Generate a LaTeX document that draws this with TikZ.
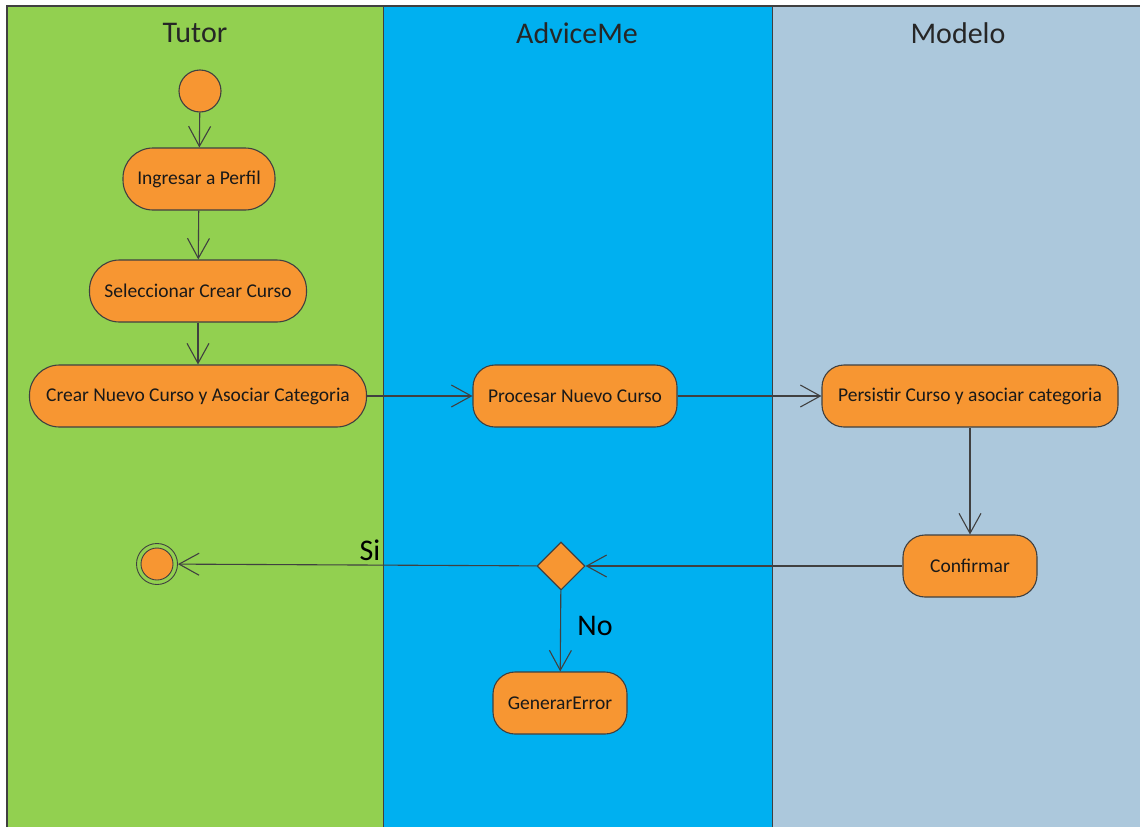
\documentclass[tikz,border=0pt]{standalone}
\usepackage{fontspec}
\setmainfont{Carlito}
\usetikzlibrary{arrows.meta,shapes.geometric}
\definecolor{lanegreen}{RGB}{146,208,80}
\definecolor{laneblue}{RGB}{0,176,240}
\definecolor{lanegray}{RGB}{172,200,220}
\definecolor{actorange}{RGB}{247,150,50}
\definecolor{edgegray}{RGB}{64,64,64}
\tikzset{
  act/.style={draw=edgegray, line width=1.1pt, fill=actorange, rounded corners=#1, minimum height=62pt, inner xsep=0pt, font=\fontsize{19.5}{22}\selectfont, text=black!90},
  act/.default=30pt,
  flow/.style={draw=edgegray, line width=1.1pt, -{Straight Barb[length=20pt,width=22pt,line width=1.1pt]}},
  lanetitle/.style={font=\fontsize{30}{32}\selectfont, text=black!85},
  lbl/.style={font=\fontsize{30}{32}\selectfont, text=black}
}
\begin{document}
\begin{tikzpicture}[x=1pt,y=-1pt]
\useasboundingbox (0,0) rectangle (1140,827);
\fill[white] (0,0) rectangle (1140,827);
% lanes
\fill[lanegreen] (7,6) rectangle (383,827);
\fill[laneblue] (383,6) rectangle (772,827);
\fill[lanegray] (772,6) rectangle (1140,827);
\draw[edgegray, line width=1.2pt] (7,827) -- (7,6) -- (1140,6);
\draw[edgegray, line width=0.8pt] (383,6) -- (383,827);
\draw[edgegray, line width=0.8pt] (772,6) -- (772,827);
\node[lanetitle] (tTutor) at (195,33) {Tutor};
\node[lanetitle] (tAdv) at (577,33) {AdviceMe};
\node[lanetitle] (tMod) at (958,33) {Modelo};
% nodes
\node[circle, draw=edgegray, line width=1.1pt, fill=actorange, minimum size=42pt, inner sep=0pt] (start) at (200,91) {};
\node[act, minimum width=152pt] (ing) at (199,179) {Ingresar a Perfil};
\node[act, minimum width=217pt] (sel) at (198,291) {Seleccionar Crear Curso};
\node[act, minimum width=337pt] (crear) at (198,396) {Crear Nuevo Curso y Asociar Categoria};
\node[act=22pt, minimum width=204pt] (proc) at (575,396) {Procesar Nuevo Curso};
\node[act=22pt, minimum width=296pt] (pers) at (970,396) {Persistir Curso y asociar categoria};
\node[act=22pt, minimum width=134pt] (conf) at (970,566) {Confirmar};
\node[diamond, draw=edgegray, line width=1.1pt, fill=actorange, minimum width=48pt, minimum height=48pt, inner sep=0pt] (dec) at (561,566) {};
\node[act=22pt, minimum width=134pt] (err) at (560,703) {GenerarError};
\node[circle, draw=edgegray, line width=0.9pt, fill=lanegreen, minimum size=41pt, inner sep=0pt] (endo) at (157,564) {};
\node[circle, draw=edgegray, line width=0.9pt, fill=actorange, minimum size=32pt, inner sep=0pt] (endi) at (157,564) {};
% flows
\draw[flow] (start) -- (ing);
\draw[flow] (ing) -- (sel);
\draw[flow] (sel) -- (crear);
\draw[flow] (crear) -- (proc);
\draw[flow] (proc) -- (pers);
\draw[flow] (pers) -- (conf);
\draw[flow] (conf) -- (dec);
\draw[flow] (dec) -- (endo);
\draw[flow] (dec) -- (err);
\node[lbl] (si) at (370,550) {Si};
\node[lbl] (no) at (595,626) {No};
\end{tikzpicture}
\end{document}
